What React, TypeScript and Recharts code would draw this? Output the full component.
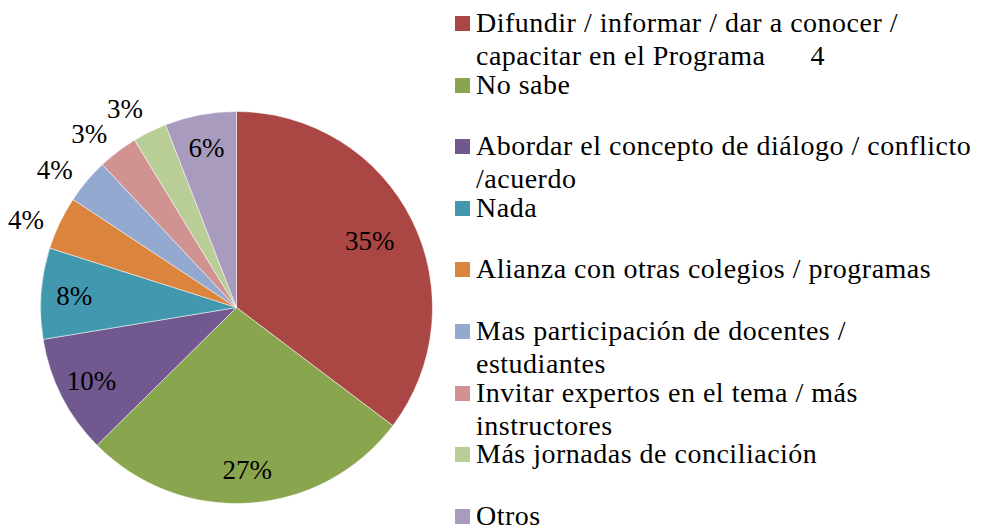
import { PieChart, Pie, Cell, Legend } from 'recharts'

const categories = [
  'Difundir / informar / dar a conocer /\ncapacitar en el Programa      4',
  'No sabe',
  'Abordar el concepto de diálogo / conflicto\n/acuerdo',
  'Nada',
  'Alianza con otras colegios / programas',
  'Mas participación de docentes /\nestudiantes',
  'Invitar expertos en el tema / más\ninstructores',
  'Más jornadas de conciliación',
  'Otros',
]

// share of answers (percent)
const shares = [35.3, 27.3, 9.8, 7.5, 4.4, 3.7, 3.3, 2.8, 5.9]

const colors = [
  '#AA4643',
  '#89A54E',
  '#71588F',
  '#4198AF',
  '#DB843D',
  '#93A9CF',
  '#D19392',
  '#B9CD96',
  '#A99BBD',
]

const data = categories.map((name, i) => ({ name, value: shares[i] }))

const FONT = 'Liberation Serif, Times New Roman, Tinos, DejaVu Serif, serif'
const RADIAN = Math.PI / 180

function renderLabel(props: any) {
  const { cx, cy, midAngle, outerRadius, percent } = props
  const inside = percent >= 0.05
  // small slices get their label outside, nudged a little back along the ring
  const r = inside ? outerRadius * (percent > 0.3 ? 0.76 : 0.83) : outerRadius + 32
  const a = inside ? midAngle : midAngle + 3
  const x = cx + r * Math.cos(-a * RADIAN)
  const y = cy + r * Math.sin(-a * RADIAN)
  return (
    <text
      x={x}
      y={y}
      fill="#000"
      textAnchor="middle"
      dominantBaseline="central"
      style={{ fontFamily: FONT, fontSize: 27 }}
    >
      {Math.round(percent * 100)}%
    </text>
  )
}

function LegendList() {
  return (
    <div style={{ fontFamily: FONT, fontSize: 28, letterSpacing: 0.5, color: '#000' }}>
      {categories.map((label, i) => (
        <div key={i} style={{ position: 'relative', height: 61.6 }}>
          <span
            style={{
              position: 'absolute',
              left: 0,
              top: 17,
              width: 15,
              height: 15,
              background: colors[i],
            }}
          />
          <div
            style={{
              position: 'absolute',
              left: 21,
              top: 7,
              lineHeight: '33px',
              whiteSpace: 'pre',
            }}
          >
            {label}
          </div>
        </div>
      ))}
    </div>
  )
}

export default function App() {
  return (
    <div style={{ position: 'absolute', left: 0, top: 0, width: 981, height: 529, background: '#fff', fontFamily: FONT }}>
      <PieChart width={981} height={529} margin={{ top: 0, right: 0, bottom: 0, left: 0 }}>
        <Pie
          data={data}
          dataKey="value"
          nameKey="name"
          cx={236.5}
          cy={307.5}
          outerRadius={196}
          startAngle={90}
          endAngle={-270}
          stroke="#fff"
          strokeWidth={0.5}
          label={renderLabel}
          labelLine={false}
          isAnimationActive={false}
        >
          {data.map((d, i) => (
            <Cell key={d.name} fill={colors[i]} />
          ))}
        </Pie>
        <Legend
          layout="vertical"
          align="right"
          verticalAlign="top"
          content={<LegendList />}
          wrapperStyle={{ position: 'absolute', left: 455, top: -1, width: 524 }}
        />
      </PieChart>
    </div>
  )
}
